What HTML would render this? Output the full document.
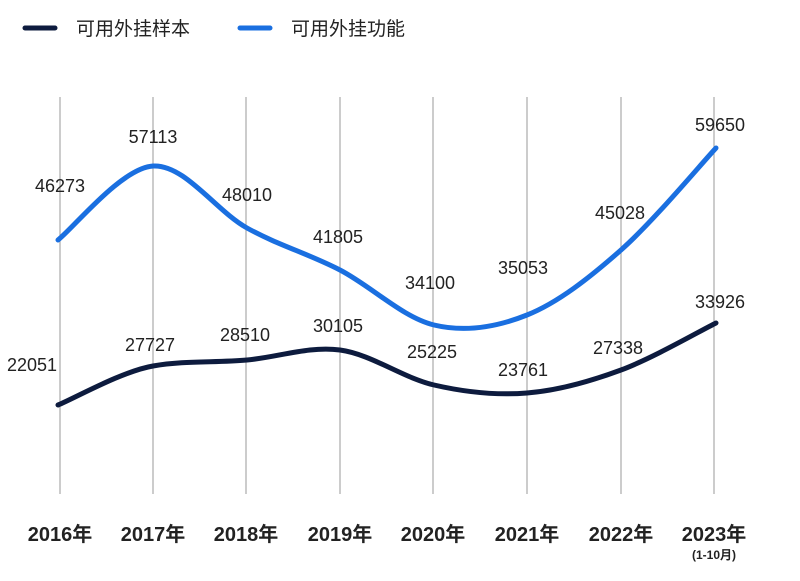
<!DOCTYPE html>
<html><head><meta charset="utf-8"><style>
html,body{margin:0;padding:0;background:#fff;}
svg{display:block;}
text{font-family:"Liberation Sans","Noto Sans CJK SC",sans-serif;fill:#222;}
</style></head><body>
<svg width="800" height="581" viewBox="0 0 800 581" xmlns="http://www.w3.org/2000/svg">
<rect width="800" height="581" fill="#fff"/>
<line x1="25" y1="28" x2="55" y2="28" stroke="#0d1b3e" stroke-width="5" stroke-linecap="round"/>
<text x="76" y="35" font-size="19" fill="#333">可用外挂样本</text>
<line x1="240" y1="28" x2="270" y2="28" stroke="#1a6fe0" stroke-width="5" stroke-linecap="round"/>
<text x="291" y="35" font-size="19" fill="#333">可用外挂功能</text>
<g stroke="#999" stroke-width="1">
<line x1="60" y1="97" x2="60" y2="494"/>
<line x1="153" y1="97" x2="153" y2="494"/>
<line x1="246" y1="97" x2="246" y2="494"/>
<line x1="340" y1="97" x2="340" y2="494"/>
<line x1="433" y1="97" x2="433" y2="494"/>
<line x1="527" y1="97" x2="527" y2="494"/>
<line x1="621" y1="97" x2="621" y2="494"/>
<line x1="714" y1="97" x2="714" y2="494"/>
</g>
<path d="M58,240 C73.8,227.7 121.5,168 153,166 C184.5,164 215.8,210.7 247,228 C278.2,245.3 308.8,253.8 340,270 C371.2,286.2 402.8,317.5 434,325 C465.2,332.5 495.8,327.5 527,315 C558.2,302.5 589.5,277.8 621,250 C652.5,222.2 700.2,165 716,148" fill="none" stroke="#1a6fe0" stroke-width="5" stroke-linecap="round"/>
<path d="M58,405 C73.8,398.7 121.5,371.5 153,366 C184.5,360.5 215.8,362.8 247,360 C278.2,357.2 308.8,345.8 340,350 C371.2,354.2 402.8,377.8 434,385 C465.2,392.2 495.8,395.5 527,393 C558.2,390.5 589.5,381.7 621,370 C652.5,358.3 700.2,330.8 716,323" fill="none" stroke="#0d1b3e" stroke-width="5" stroke-linecap="round"/>
<g font-size="18" text-anchor="middle">
<text x="60" y="192">46273</text>
<text x="153" y="143">57113</text>
<text x="247" y="201">48010</text>
<text x="338" y="243">41805</text>
<text x="430" y="289">34100</text>
<text x="523" y="274">35053</text>
<text x="620" y="219">45028</text>
<text x="720" y="131">59650</text>
<text x="32" y="371">22051</text>
<text x="150" y="351">27727</text>
<text x="245" y="341">28510</text>
<text x="338" y="332">30105</text>
<text x="432" y="358">25225</text>
<text x="523" y="376">23761</text>
<text x="618" y="354">27338</text>
<text x="720" y="308">33926</text>
</g>
<g font-size="20" font-weight="600" text-anchor="middle" fill="#222">
<text x="60" y="541">2016年</text>
<text x="153" y="541">2017年</text>
<text x="246" y="541">2018年</text>
<text x="340" y="541">2019年</text>
<text x="433" y="541">2020年</text>
<text x="527" y="541">2021年</text>
<text x="621" y="541">2022年</text>
<text x="714" y="541">2023年</text>
<text x="714" y="559" font-size="12">(1-10月)</text>
</g>
</svg>
</body></html>
